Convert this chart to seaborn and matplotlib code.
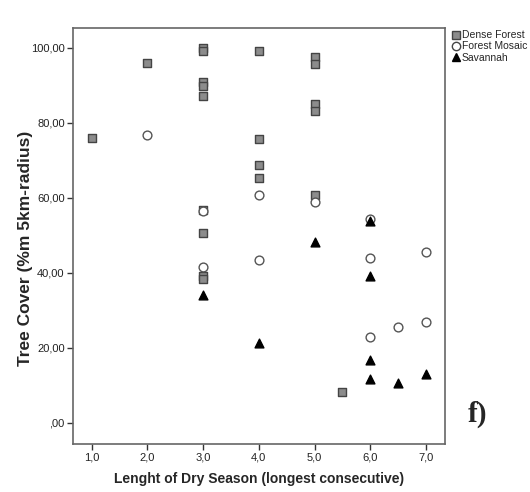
import matplotlib
matplotlib.use("Agg")
import matplotlib.pyplot as plt
import seaborn as sns
import pandas as pd
from matplotlib.lines import Line2D

# Data
dense_x = [1, 2, 3, 3, 3, 3, 3, 3, 3, 3, 3, 4, 4, 4, 4, 5, 5, 5, 5, 5, 5.5]
dense_y = [76.1, 96.0, 100.0, 99.3, 90.8, 89.9, 87.2, 56.9, 50.6, 39.3, 38.4,
           99.2, 75.8, 68.7, 65.3, 97.7, 95.6, 85.1, 83.1, 60.8, 8.2]
mosaic_x = [2, 3, 3, 4, 4, 5, 6, 6, 6, 6.5, 7, 7]
mosaic_y = [76.9, 56.5, 41.5, 60.9, 43.5, 58.8, 54.4, 44.0, 22.9, 25.6, 45.6, 27.0]
sav_x = [3, 4, 5, 6, 6, 6, 6, 6.5, 7]
sav_y = [34.0, 21.3, 48.2, 53.8, 39.2, 16.8, 11.8, 10.7, 13.1]
groups = ["Dense Forest", "Forest Mosaic", "Savannah"]
xticks = [1, 2, 3, 4, 5, 6, 7]
yticks = [0, 20, 40, 60, 80, 100]

df = pd.concat([
    pd.DataFrame({"x": dense_x, "y": dense_y, "g": groups[0]}),
    pd.DataFrame({"x": mosaic_x, "y": mosaic_y, "g": groups[1]}),
    pd.DataFrame({"x": sav_x, "y": sav_y, "g": groups[2]}),
])

sns.set_style("white")
plt.rcParams["font.family"] = ["Liberation Sans", "DejaVu Sans"]

fig = plt.figure(figsize=(5.3, 4.92), dpi=100)
ax = fig.add_axes([0.1377, 0.0976, 0.8396 - 0.1377, 0.943 - 0.0976])

styles = {
    groups[0]: dict(marker="s", facecolor="#8c8c8c", edgecolor="#444444", s=34),
    groups[1]: dict(marker="o", facecolor="white", edgecolor="#555555", s=40),
    groups[2]: dict(marker="^", facecolor="black", edgecolor="black", s=40),
}
for g in groups:
    st = styles[g]
    sns.scatterplot(data=df[df.g == g], x="x", y="y", ax=ax, marker=st["marker"],
                    color=st["facecolor"], edgecolor=st["edgecolor"], s=st["s"],
                    linewidth=1.0, legend=False, zorder=3)

ax.set_xlim(0.665, 7.34)
ax.set_ylim(-5.6, 105.3)
ax.set_xticks(xticks)
ax.set_xticklabels([f"{v:.1f}".replace(".", ",") for v in xticks], fontsize=8)
ax.set_yticks(yticks)
ax.set_yticklabels([("%.2f" % v).replace(".", ",") if v != 0 else ",00" for v in yticks], fontsize=8)
ax.tick_params(axis="both", direction="out", length=4, width=1, color="#333333",
               left=True, bottom=True, pad=2, labelcolor="#222222")
for sp in ax.spines.values():
    sp.set_color("#666666")
    sp.set_linewidth(1.2)
ax.set_xlabel("Lenght of Dry Season (longest consecutive)", fontsize=10, fontweight="bold", labelpad=7)
ax.set_ylabel("Tree Cover (%m 5km-radius)", fontsize=12.5, fontweight="bold")
ax.yaxis.set_label_coords(-0.108, 0.47)

handles = [
    Line2D([], [], linestyle="none", marker="s", markerfacecolor="#8c8c8c", markeredgecolor="#444444", markersize=6),
    Line2D([], [], linestyle="none", marker="o", markerfacecolor="white", markeredgecolor="#444444", markersize=6),
    Line2D([], [], linestyle="none", marker="^", markerfacecolor="black", markeredgecolor="black", markersize=6),
]
fig.legend(handles, groups, loc="upper left", bbox_to_anchor=(0.843, 0.947), frameon=False,
           fontsize=7.5, handletextpad=0.15, labelspacing=0.12, borderaxespad=0, handlelength=0.9)

fig.text(0.882, 0.143, "f)", fontsize=21, fontweight="bold", family="Liberation Serif")

fig.savefig("out.png", dpi=100, facecolor="white")
